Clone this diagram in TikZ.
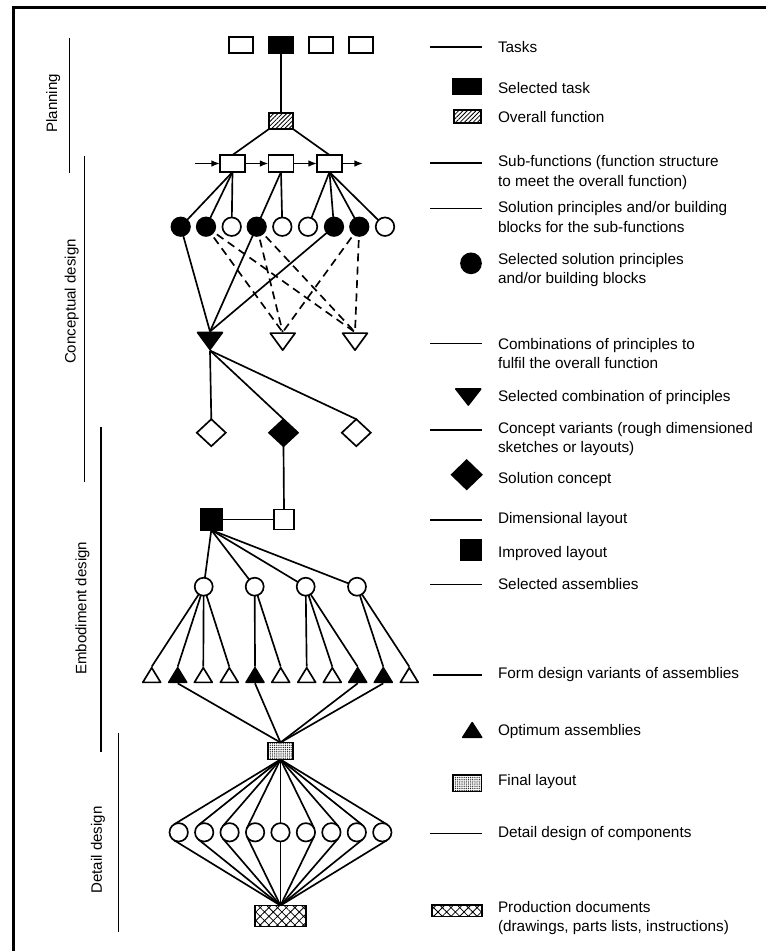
\documentclass[tikz,border=0pt]{standalone}
\usepackage{fontspec}
\setmainfont{Liberation Sans}
\usetikzlibrary{shapes.geometric,arrows.meta,patterns.meta,backgrounds}

\newcommand\lgfont{\fontsize{11.5}{14.5}\selectfont}
\newcommand\phfont{\fontsize{11.3}{13}\selectfont}

\tikzset{
  every node/.style={inner sep=0pt, outer sep=0pt},
  bd/.style={draw, line width=1.25pt},
  box/.style={bd, rectangle, fill=white, minimum width=18pt, minimum height=12pt},
  blackbox/.style={box, fill=black},
  hatchbox/.style={box, pattern={Lines[angle=45,distance=2.3pt,line width=0.6pt]}},
  dotbox/.style={box, pattern={Dots[distance=1.4pt,radius=0.42pt]}},
  xbox/.style={box, pattern={Hatch[angle=45,distance=4.6pt,line width=0.6pt]}},
  spot/.style={bd, circle, fill=white, minimum size=13.9pt},
  spotfill/.style={spot, fill=black},
  dmd/.style={bd, diamond, fill=white, minimum width=21.75pt, minimum height=20.25pt},
  tridown/.style={rectangle, path picture={
      \draw[line width=1.25pt, line join=round, fill=#1]
        ([xshift=0.8pt,yshift=-0.7pt]path picture bounding box.north west) --
        ([xshift=-0.8pt,yshift=-0.7pt]path picture bounding box.north east) --
        ([yshift=0.8pt]path picture bounding box.south) -- cycle;}},
  triup/.style={rectangle, path picture={
      \draw[line width=1.25pt, line join=round, fill=#1]
        ([xshift=0.8pt,yshift=0.7pt]path picture bounding box.south west) --
        ([xshift=-0.8pt,yshift=0.7pt]path picture bounding box.south east) --
        ([yshift=-0.8pt]path picture bounding box.north) -- cycle;}},
  ctri/.style={tridown=#1, minimum width=20.25pt, minimum height=14.25pt},
  ftri/.style={triup=#1, minimum width=15pt, minimum height=12.5pt},
  link/.style={line width=1.25pt},
  dlink/.style={line width=1.25pt, dash pattern=on 6pt off 4pt},
  arr/.style={line width=1.2pt, -{Latex[length=6.5pt,width=5pt]}},
  lgline/.style={line width=0.9pt},
  phline/.style={line width=1pt},
  lbl/.style={anchor=west, align=left, font=\lgfont},
  phase/.style={font=\phfont, rotate=90},
}

\begin{document}
\begin{tikzpicture}[x=0.75pt,y=-0.75pt]
\useasboundingbox (0,0) rectangle (766,951);

% frame
\draw[line width=2.4pt, line join=miter] (13.7,951) -- (13.7,7.3) -- (766,7.3);

% phases
\node[phase] (pPlan) at (53.3,103.4) {Planning};
\node[phase] (pConc) at (71.7,301.5) {Conceptual design};
\node[phase] (pEmb) at (82.5,608.3) {Embodiment design};
\node[phase] (pDet) at (98,850) {Detail design};
\draw[phline] (69.3,38.3) -- (69.3,173.3);
\draw[phline] (84.3,156) -- (84.3,481.7);
\draw[phline] (101,426.7) -- (101,751.7);
\draw[phline] (118.3,733) -- (118.3,931.7);

% tasks and overall function
\node[box] (tk1) at (241,45) {};
\node[blackbox] (tk2) at (281,45) {};
\node[box] (tk3) at (321,45) {};
\node[box] (tk4) at (361,45) {};
\node[hatchbox] (ovf) at (281,121) {};

% sub-functions
\node[box, minimum width=18.75pt, minimum height=12.75pt] (sf1) at (232.5,163.5) {};
\node[box, minimum width=18.75pt, minimum height=12.75pt] (sf2) at (281,163.5) {};
\node[box, minimum width=18.75pt, minimum height=12.75pt] (sf3) at (329.5,163.5) {};
\coordinate (fin) at (195,163.5);
\coordinate (fout) at (363,163.5);

% solution principles
\foreach \i/\x/\s in {1/180.7/spotfill, 2/206/spotfill, 3/231.7/spot, 4/256.7/spotfill,
                      5/282.3/spot, 6/308/spot, 7/334/spotfill, 8/359.3/spotfill, 9/385/spot}
  \node[\s] (sp\i) at (\x,226.7) {};

% combinations of principles
\node[ctri=black] (ct1) at (210,341) {};
\node[ctri=white] (ct2) at (282.7,341.7) {};
\node[ctri=white] (ct3) at (355,341.7) {};

% concept variants
\node[dmd] (cv1) at (211.3,432.7) {};
\node[dmd, fill=black] (cv2) at (283.5,432.7) {};
\node[dmd] (cv3) at (356.3,432.7) {};

% layouts
\node[box, minimum size=15pt] (dl) at (284,519.5) {};
\node[blackbox, minimum size=15.75pt] (il) at (211.3,519.5) {};

% assemblies
\foreach \i/\x in {1/203.7, 2/254.7, 3/305.7, 4/357}
  \node[spot, minimum size=13.5pt] (sa\i) at (\x,586.7) {};

% form design variants
\foreach \i/\x/\c in {1/151.7/white, 2/177.7/black, 3/203.3/white, 4/229.3/white,
                      5/255/black, 6/280.7/white, 7/306.7/white, 8/332.3/white,
                      9/357.7/black, 10/383.3/black, 11/409.3/white}
  \node[ftri=\c] (fv\i) at (\x,675) {};

% final layout, components, production documents
\node[dotbox, minimum width=18.75pt, minimum height=12.75pt] (fl) at (280.5,751) {};
\foreach \i/\x in {1/178.7, 2/204.2, 3/229.6, 4/255.1, 5/280.5, 6/305.9, 7/331.4, 8/356.8, 9/382.3}
  \node[spot, minimum size=13.8pt] (dd\i) at (\x,832.3) {};
\node[xbox, minimum width=38.25pt, minimum height=15.75pt] (pd) at (280.5,916) {};

\begin{scope}[on background layer]
  \fill[white] (0,0) rectangle (766,951);
  \draw[link] (tk2) -- (ovf);
  \draw[link] (ovf.south west) -- (sf1.north);
  \draw[link] (ovf.south east) -- (sf3.north);
  \draw[arr] (fin) -- (sf1.west);
  \draw[arr] (sf1.east) -- (sf2.west);
  \draw[arr] (sf2.east) -- (sf3.west);
  \draw[arr] (sf3.east) -- (fout);
  \foreach \j in {1,2,3} \draw[link] (sf1.south) -- (sp\j.center);
  \foreach \j in {4,5} \draw[link] (sf2.south) -- (sp\j.center);
  \foreach \j in {6,7,8,9} \draw[link] (sf3.south) -- (sp\j.center);
  \foreach \j in {1,4,7} \draw[link] (sp\j.center) -- (ct1.north);
  \foreach \j in {2,4,8} {
    \draw[dlink] (sp\j.center) -- (ct2.north);
    \draw[dlink] (sp\j.center) -- (ct3.north);
  }
  \foreach \j in {1,2,3} \draw[link] (ct1.south) -- (cv\j.north);
  \draw[link] (cv2.south) -- (dl.north);
  \draw[link] (dl.west) -- (il.east);
  \foreach \j in {1,2,3,4} \draw[link] (il.south) -- (sa\j.center);
  \foreach \j in {1,2,3,4} \draw[link] (sa1.center) -- (fv\j.north);
  \foreach \j in {5,6} \draw[link] (sa2.center) -- (fv\j.north);
  \foreach \j in {7,8,9} \draw[link] (sa3.center) -- (fv\j.north);
  \foreach \j in {10,11} \draw[link] (sa4.center) -- (fv\j.north);
  \foreach \j in {2,5,9,10} \draw[link] (fv\j.south) -- (fl.north);
  % components: lines run tangent to the outer side of each circle
  \foreach \j/\a in {1/121.4, 2/128.7, 3/139.1, 4/153.9, 6/26.1, 7/40.9, 8/51.3, 9/58.6} {
    \draw[link] (fl.south) -- (dd\j.\a);
    \draw[link] (dd\j.-\a) -- (pd.north);
  }
  \draw[link] (fl.south) -- (dd5.north);
  \draw[link] (dd5.south) -- (pd.north);
\end{scope}

% legend symbols
\foreach \y in {47,163,208.3,343.3,430,520,584.3,833.3}
  \draw[lgline] (430,\y) -- (481.7,\y);
\draw[lgline] (433,675) -- (481.7,675);
\node[blackbox, minimum width=21pt, minimum height=11.25pt] (ks2) at (467,86.5) {};
\node[hatchbox, minimum width=20.25pt, minimum height=9.75pt] (ks3) at (467.5,116.3) {};
\node[spotfill, minimum size=15pt] (ks6) at (471,263.3) {};
\node[tridown=black, minimum width=20.25pt, minimum height=13.5pt] (ks8) at (468.3,397) {};
\node[dmd, fill=black, minimum width=22.5pt, minimum height=21.75pt] (ks10) at (466.7,474.7) {};
\node[blackbox, minimum size=15.25pt] (ks12) at (471.3,550) {};
\node[triup=black, minimum width=15.75pt, minimum height=12.5pt] (ks15) at (472.2,730) {};
\node[dotbox, minimum width=21.5pt, minimum height=12.5pt] (ks16) at (467.3,783.3) {};
\node[xbox, minimum width=37.5pt, minimum height=8.75pt] (ks18) at (457,910.8) {};

% legend texts
\node[lbl] (lt1) at (498,47) {Tasks};
\node[lbl] (lt2) at (498,88) {Selected task};
\node[lbl] (lt3) at (498,117) {Overall function};
\node[lbl] (lt4) at (498,172.5) {Sub-functions (function structure\\to meet the overall function)};
\node[lbl] (lt5) at (498,217) {Solution principles and/or building\\blocks for the sub-functions};
\node[lbl] (lt6) at (498,270) {Selected solution principles\\and/or building blocks};
\node[lbl] (lt7) at (498,353.3) {Combinations of principles to\\fulfil the overall function};
\node[lbl] (lt8) at (498,397.3) {Selected combination of principles};
\node[lbl] (lt9) at (498,439.2) {Concept variants (rough dimensioned\\sketches or layouts)};
\node[lbl] (lt10) at (498,480) {Solution concept};
\node[lbl] (lt11) at (498,520) {Dimensional layout};
\node[lbl] (lt12) at (498,553.3) {Improved layout};
\node[lbl] (lt13) at (498,584.3) {Selected assemblies};
\node[lbl] (lt14) at (498,675) {Form design variants of assemblies};
\node[lbl] (lt15) at (498,732) {Optimum assemblies};
\node[lbl] (lt16) at (498,781.7) {Final layout};
\node[lbl] (lt17) at (498,833.3) {Detail design of components};
\node[lbl] (lt18) at (498,918.3) {Production documents\\(drawings, parts lists, instructions)};
\end{tikzpicture}
\end{document}
